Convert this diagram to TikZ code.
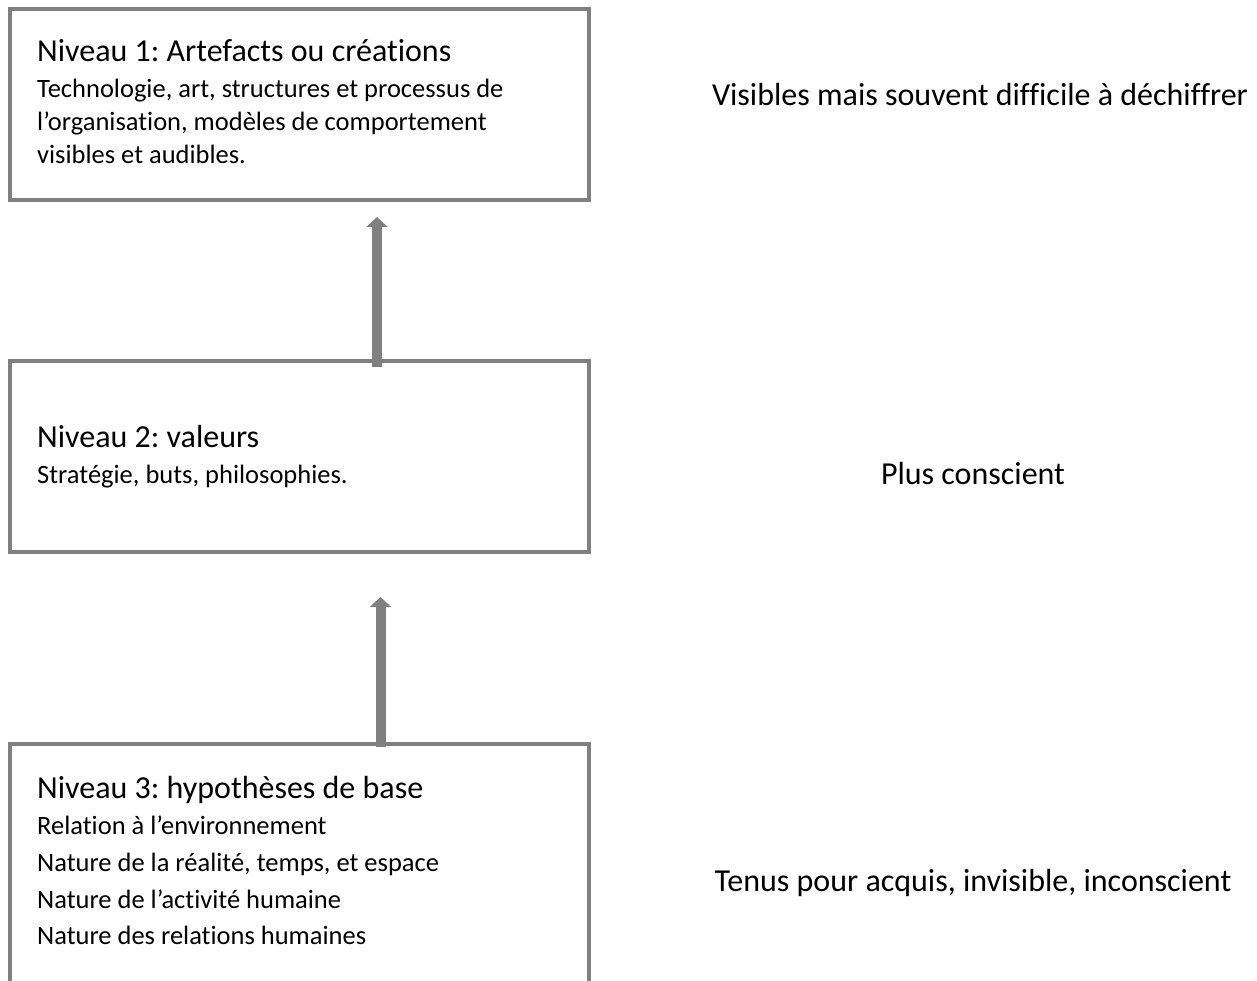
\documentclass[tikz,border=0pt]{standalone}
\usepackage{fontspec}
\setmainfont{Carlito}[Ligatures=NoCommon]
\usetikzlibrary{arrows.meta}

\definecolor{framegray}{HTML}{808080}

\tikzset{
  level/.style={draw=framegray, line width=4pt, fill=white, inner sep=0pt, outer sep=0pt,
                minimum width=579pt},
  head/.style={anchor=base west, inner sep=0pt, font=\fontsize{32}{36}\selectfont},
  body/.style={anchor=base west, inner sep=0pt, font=\fontsize{26.5}{31}\selectfont},
  side/.style={anchor=base, inner sep=0pt, font=\fontsize{32}{36}\selectfont},
  uparrow/.style={draw=framegray, line width=10pt,
                  -{Triangle[width=21pt,length=10pt]}}
}

\begin{document}
\frenchspacing
\begin{tikzpicture}[x=1pt,y=-1pt]
  \useasboundingbox (0,0) rectangle (1257,981);
  \clip (0,0) rectangle (1257,981);

  % the three levels
  \node[level, minimum height=191pt] (lvlA) at (299.5,104.5) {};
  \node[level, minimum height=191pt] (lvlB) at (299.5,456.5) {};
  \node[level, minimum height=420pt] (lvlC) at (299.5,954) {};

  % level 1
  \node[head] (tA) at (37,62) {Niveau 1: Artefacts ou créations};
  \node[body] (tA1) at (37,98) {Technologie, art, structures et processus de};
  \node[body] (tA2) at (37,131) {l’organisation, modèles de comportement};
  \node[body] (tA3) at (37,164) {visibles et audibles.};

  % level 2
  \node[head] (tB) at (37,447) {Niveau 2: valeurs};
  \node[body] (tB1) at (37,483) {Stratégie, buts, philosophies.};

  % level 3
  \node[head] (tC) at (37,798) {Niveau 3: hypothèses de base};
  \node[body] (tC1) at (37,834) {Relation à l’environnement};
  \node[body] (tC2) at (37,871) {Nature de la réalité, temps, et espace};
  \node[body] (tC3) at (37,908) {Nature de l’activité humaine};
  \node[body] (tC4) at (37,944) {Nature des relations humaines};

  % visibility labels
  \node[side] (sA) at (980,106) {Visibles mais souvent difficile à déchiffrer};
  \node[side] (sB) at (973,484) {Plus conscient};
  \node[side] (sC) at (973,891) {Tenus pour acquis, invisible, inconscient};

  % arrows between the levels
  \draw[uparrow] ([xshift=77.5pt,yshift=-6pt]lvlB.north) -- ([xshift=77.5pt,yshift=-17pt]lvlA.south);
  \draw[uparrow] ([xshift=81pt,yshift=-3pt]lvlC.north) -- ([xshift=81pt,yshift=-45pt]lvlB.south);
\end{tikzpicture}
\end{document}
